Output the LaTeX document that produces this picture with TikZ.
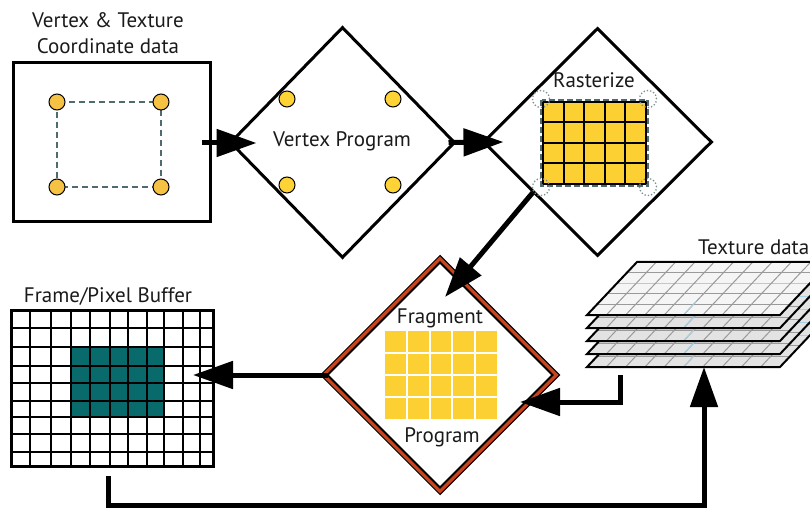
\documentclass[tikz,border=0pt]{standalone}
\usepackage{fontspec}
\setmainfont{PT Sans}
\usetikzlibrary{shapes.geometric,arrows.meta,calc}

\definecolor{inkdark}{HTML}{1A1A1A}
\definecolor{dotorange}{HTML}{F6C244}
\definecolor{dotyellow}{HTML}{FDD335}
\definecolor{cellyellow}{HTML}{FCCF33}
\definecolor{slate}{HTML}{4F6B70}
\definecolor{teal}{HTML}{086A6A}
\definecolor{rust}{HTML}{C9441C}
\definecolor{sheetgrey}{HTML}{E3E3E3}
\definecolor{sheettop}{HTML}{F5F5F5}
\definecolor{sheetline}{HTML}{9A9A9A}
\definecolor{sheetblue}{HTML}{A8CFE3}

\tikzset{
  lbl/.style={font=\fontsize{21}{25}\selectfont, text=inkdark, inner sep=0pt, anchor=base},
  dmd/.style={diamond, draw=black, line width=3pt, inner sep=0pt, fill=white},
  dotA/.style={circle, draw=black, line width=1pt, fill=dotorange, minimum size=16pt, inner sep=0pt},
  dotB/.style={circle, draw=black, line width=1pt, fill=dotyellow, minimum size=16pt, inner sep=0pt},
  ghost/.style={circle, draw=slate!75, dotted, line width=1.3pt, minimum size=17pt, inner sep=0pt},
  flow/.style={line width=5pt, -{Triangle[length=40pt,width=27pt]}},
  gridline/.style={sheetline, line width=1pt},
}

\begin{document}
\begin{tikzpicture}[x=1pt,y=-1pt]
\useasboundingbox (0,0) rectangle (810,510);
\clip (0,0) rectangle (810,510);

% ---------- source data box ----------
\node[lbl] (srctitleA) at (108,28) {Vertex \& Texture};
\node[lbl] (srctitleB) at (108,54) {Coordinate data};
\node[draw=black, line width=3pt, minimum width=197pt, minimum height=159pt, inner sep=0pt] (src) at (111.5,142.5) {};
\draw[slate, line width=1.5pt, dash pattern=on 6pt off 4pt] (57,102) rectangle (161,187);
\node[dotA] (s1) at (57,102) {};
\node[dotA] (s2) at (161,102) {};
\node[dotA] (s3) at (57,187) {};
\node[dotA] (s4) at (161,187) {};

% ---------- vertex program ----------
\node[dmd, minimum width=225pt, minimum height=231pt] (vp) at (342.5,142.5) {};
\node[lbl] (vptext) at (342,147) {Vertex Program};
\node[dotB] (v1) at (287,99) {};
\node[dotB] (v2) at (393,99) {};
\node[dotB] (v3) at (287,185) {};
\node[dotB] (v4) at (393,185) {};

% ---------- rasterize ----------
\node[dmd, minimum width=229pt, minimum height=228pt] (rast) at (597.5,142) {};
\node[lbl] (rasttext) at (594,88) {Rasterize};
\draw[slate, line width=2.5pt, dash pattern=on 6pt off 3pt] (541.5,100.5) rectangle (647.5,185.5);
\fill[cellyellow] (543,102) rectangle (646,184);
\foreach \i in {0,...,5} \draw[black, line width=2pt] ({543+\i*20.6},102) -- ({543+\i*20.6},184);
\foreach \j in {0,...,4} \draw[black, line width=2pt] (543,{102+\j*20.5}) -- (646,{102+\j*20.5});
\node[ghost] (g1) at (541,99) {};
\node[ghost] (g2) at (648,99) {};
\node[ghost] (g3) at (541,187) {};
\node[ghost] (g4) at (648,187) {};

% ---------- fragment program ----------
\node[diamond, draw=black, line width=6.5pt, inner sep=0pt, fill=white, minimum width=234pt, minimum height=234pt] (frag) at (440,375) {};
\node[diamond, draw=rust, line width=3.2pt, inner sep=0pt, minimum width=234pt, minimum height=234pt] (fragline) at (440,375) {};
\node[lbl] (fragtextA) at (440,323) {Fragment};
\node[lbl] (fragtextB) at (442,442) {Program};
\fill[cellyellow] (385,331) rectangle (497,419);
\foreach \i in {1,...,4} \draw[white, line width=2pt] ({385+\i*22.4},330) -- ({385+\i*22.4},420);
\foreach \j in {1,...,3} \draw[white, line width=2pt] (384,{331+\j*22}) -- (498,{331+\j*22});

% ---------- frame / pixel buffer ----------
\node[lbl] (fbtext) at (108,302) {Frame/Pixel Buffer};
\fill[teal] (70.7,346.7) rectangle (164.3,416.7);
\foreach \x in {30,50.7,70.7,90,110,127.7,146.7,164.3,182.7,200}
  \draw[black, line width=2pt] (\x,310) -- (\x,466.7);
\foreach \y in {327.7,346.7,366,383.3,401,416.7,434.3,451.7}
  \draw[black, line width=2pt] (11,\y) -- (213.3,\y);
\node[draw=black, line width=3pt, minimum width=202.3pt, minimum height=156.7pt, inner sep=0pt] (fbuf) at (112.15,388.35) {};

% ---------- texture data stack (bottom sheet first) ----------
\node[lbl, anchor=base west] (textext) at (698,255) {Texture data};
\foreach \k/\sheetfill in {4/sheetgrey,3/sheetgrey,2/sheetgrey,1/sheetgrey,0/sheettop} {
  \pgfmathsetmacro{\yb}{315+13*\k}
  \pgfmathsetmacro{\yt}{\yb-53}
  \fill[\sheetfill] (587,\yb) -- (780,\yb) -- (830,\yt) -- (637,\yt) -- cycle;
  \foreach \j in {1,...,4}
    \draw[gridline] ({587+10*\j},{\yb-10.6*\j}) -- ({780+10*\j},{\yb-10.6*\j});
  \draw[sheetblue, line width=1pt] ({587+30},{\yb-31.8}) -- ({780+30},{\yb-31.8});
  \foreach \i in {1,...,9}
    \draw[gridline] ({587+\i*19.3},\yb) -- ({637+\i*19.3},\yt);
  \draw[sheetblue, line width=1pt] ({587+5*19.3},\yb) -- ({587+5*19.3+12},{\yb-13});
  \draw[black, line width=2pt, line join=miter] (587,\yb) -- (780,\yb) -- (830,\yt) -- (637,\yt) -- cycle;
}
\coordinate (texbottom) at (704,367);
\coordinate (texout) at (620,375);

% ---------- connectors ----------
\coordinate (srcout) at ($(src.east)+(-10,0.5)$);
\coordinate (vpin) at ($(vp.west)+(28,0.5)$);
\draw[flow] (srcout) -- (vpin);

\coordinate (vpout) at ($(vp.east)+(-8,0)$);
\coordinate (rastin) at ($(rast.west)+(22,0)$);
\draw[flow] (vpout) -- (rastin);

\coordinate (rastout) at ($(rast.west)!0.44!(rast.south)$);
\coordinate (fragin) at (445,297);
\draw[flow] (rastout) -- (fragin);

\coordinate (fragout) at ($(frag.west)+(8,0)$);
\coordinate (fbufin) at (193,375);
\draw[flow] (fragout) -- (fbufin);

\coordinate (fragside) at (520,402);
\draw[flow] (texout) |- (fragside);

\coordinate (fbufout) at (108,476);
\draw[flow] (fbufout) -- (108,505) -| (texbottom);
\end{tikzpicture}
\end{document}
